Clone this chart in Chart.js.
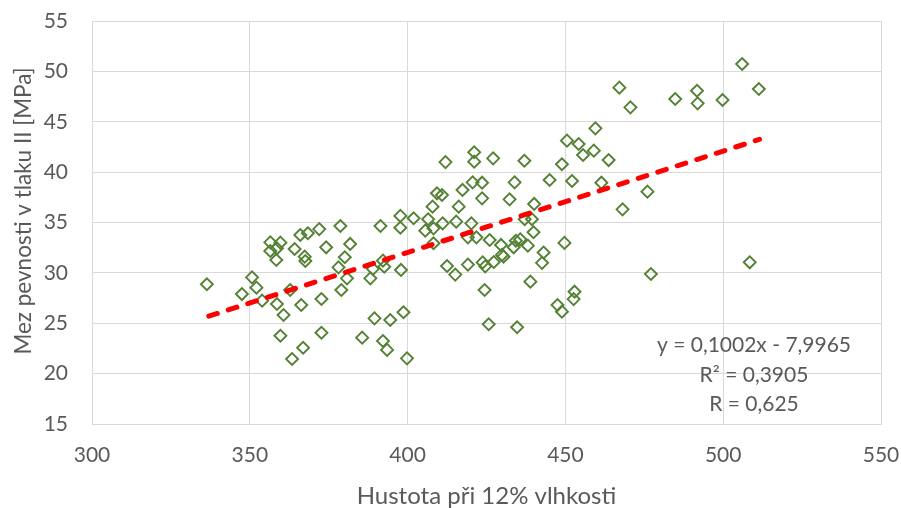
<!DOCTYPE html>
<html>
<head>
<meta charset="utf-8">
<script src="https://cdn.jsdelivr.net/npm/chart.js@4/dist/chart.umd.min.js"></script>
<style>
  html, body { margin: 0; padding: 0; background: #ffffff; }
  #wrap { width: 901px; height: 508px; position: relative; }
</style>
</head>
<body>
<div id="wrap"><canvas id="c" width="901" height="508"></canvas></div>
<script>
// Density at 12% moisture (x) and compressive strength parallel to grain (y)
const densityX = [
  336.4, 350.7, 347.5, 352.1, 353.9, 356.5, 359.7, 358.6, 356.5, 358.4,
  358.6, 360.7, 359.7, 363.4, 366.9, 362.8, 366.3, 364.2, 366.0, 368.4,
  372.0, 367.4, 367.6, 374.2, 378.7, 381.8, 380.1, 378.1, 380.8, 379.0,
  372.7, 372.7, 385.6, 389.5, 391.4, 388.2, 389.0, 392.2, 392.6, 394.5,
  398.7, 392.2, 393.5, 399.8, 397.9, 397.7, 397.7, 401.9,
  412.0, 421.1, 421.1, 427.1, 437.0, 450.5, 454.2, 455.6, 448.9, 452.1,
  445.0, 433.9, 432.3, 440.1, 420.6, 423.6, 423.6, 417.4, 409.3, 410.9,
  407.9, 416.2, 406.5, 405.6, 408.2, 411.1, 415.4, 420.2, 408.2, 419.1,
  421.8, 437.1, 439.4, 439.9, 426.0, 429.6, 434.3, 435.7, 438.1, 433.6,
  429.9, 430.4, 427.3, 424.6, 423.8, 419.1, 412.5, 415.1, 443.1, 442.6,
  449.7, 438.9, 424.4, 452.9, 452.6, 447.5, 448.9, 425.7, 434.7,
  506.0, 511.3, 491.7, 491.9, 484.8, 499.8, 467.1, 470.6, 459.5, 459.0,
  463.7, 461.4, 476.0, 468.1, 477.1, 508.4
];
const strengthY = [
  28.87, 29.56, 27.90, 28.53, 27.24, 33.03, 33.00, 32.44, 32.17, 31.28,
  26.91, 25.82, 23.76, 21.45, 22.57, 28.30, 26.81, 32.37, 33.76, 33.93,
  34.35, 31.61, 31.18, 32.54, 34.65, 32.87, 31.55, 30.55, 29.46, 28.30,
  27.41, 24.06, 23.57, 25.49, 34.65, 29.46, 30.40, 31.21, 30.61, 25.32,
  26.09, 23.24, 22.35, 21.52, 30.29, 35.65, 34.48, 35.42,
  41.00, 41.97, 41.04, 41.37, 41.13, 43.12, 42.79, 41.70, 40.78, 39.12,
  39.22, 38.99, 37.30, 36.84, 38.99, 38.95, 37.40, 38.23, 37.90, 37.73,
  36.57, 36.57, 35.32, 34.19, 34.42, 34.92, 35.08, 34.92, 32.94, 33.53,
  33.53, 35.32, 35.32, 34.03, 33.26, 32.77, 33.19, 33.33, 32.70, 32.54,
  31.78, 31.61, 31.08, 30.65, 31.04, 30.82, 30.68, 29.83, 32.02, 31.00,
  32.97, 29.13, 28.30, 28.13, 27.40, 26.81, 26.15, 24.90, 24.60,
  50.73, 48.25, 48.08, 46.83, 47.26, 47.16, 48.38, 46.43, 44.35, 42.13,
  41.20, 38.95, 38.06, 36.31, 29.89, 31.05
];
// Linear trend line end points (as drawn)
const trendX = [337.0, 511.5];
const trendY = [25.70, 43.25];
// Axis ticks
const xTicks = [300, 350, 400, 450, 500, 550];
const yTicks = [15, 20, 25, 30, 35, 40, 45, 50, 55];
// Texts
const xTitle = 'Hustota při 12% vlhkosti';
const yTitle = 'Mez pevnosti v tlaku II [MPa]';
const eqLines = ['y = 0,1002x - 7,9965', 'R² = 0,3905', 'R = 0,625'];

const FONT = 'Lato, "Open Sans", sans-serif';
const TXT = '#595959';
const GRID = '#D9D9D9';

const points = densityX.map((x, i) => ({ x: x, y: strengthY[i] }));
const trend = trendX.map((x, i) => ({ x: x, y: trendY[i] }));

const overlay = {
  id: 'overlay',
  afterDatasetsDraw(chart) {
    const ctx = chart.ctx;
    ctx.save();
    ctx.fillStyle = TXT;
    ctx.font = '21px ' + FONT;
    ctx.textAlign = 'center';
    ctx.textBaseline = 'alphabetic';
    const cx = 754;
    const base = [352, 382, 411];
    eqLines.forEach((t, i) => ctx.fillText(t, cx, base[i]));
    // y axis title
    ctx.translate(24, 211);
    ctx.rotate(-Math.PI / 2);
    ctx.font = '22.5px ' + FONT;
    ctx.textBaseline = 'middle';
    ctx.fillText(yTitle, 0, 0);
    ctx.restore();
  }
};

new Chart(document.getElementById('c'), {
  type: 'scatter',
  data: {
    datasets: [
      {
        type: 'line',
        label: 'trend',
        data: trend,
        showLine: true,
        borderColor: '#FF0000',
        borderWidth: 5,
        borderDash: [9, 11.5],
        borderCapStyle: 'round',
        pointRadius: 0,
        fill: false,
        tension: 0
      },
      {
        label: 'data',
        data: points,
        pointStyle: 'rectRot',
        pointRadius: 6,
        pointHoverRadius: 6,
        borderColor: '#548235',
        backgroundColor: 'rgba(0,0,0,0)',
        pointBorderWidth: 1.9,
        borderWidth: 1.9
      }
    ]
  },
  options: {
    responsive: false,
    animation: false,
    devicePixelRatio: 1,
    layout: { padding: { left: 0, right: 20, top: 21, bottom: 0 } },
    plugins: {
      legend: { display: false },
      tooltip: { enabled: false }
    },
    scales: {
      x: {
        type: 'linear',
        min: xTicks[0],
        max: xTicks[xTicks.length - 1],
        afterBuildTicks(scale) { scale.ticks = xTicks.map(v => ({ value: v })); },
        afterFit(scale) {
          scale.height = 84;
          scale.paddingLeft = 0;
          scale.paddingRight = 0;
        },
        grid: { color: GRID, lineWidth: 1, drawTicks: false },
        border: { color: GRID, width: 1 },
        ticks: { color: TXT, font: { family: FONT, size: 21 }, padding: 19, maxRotation: 0 },
        title: {
          display: true,
          text: xTitle,
          color: TXT,
          font: { family: FONT, size: 24, lineHeight: 1 },
          padding: { top: 0, bottom: 0 }
        }
      },
      y: {
        type: 'linear',
        min: yTicks[0],
        max: yTicks[yTicks.length - 1],
        afterBuildTicks(scale) { scale.ticks = yTicks.map(v => ({ value: v })); },
        afterFit(scale) {
          scale.width = 92;
          scale.paddingTop = 0;
          scale.paddingBottom = 0;
        },
        grid: { color: GRID, lineWidth: 1, drawTicks: false },
        border: { color: GRID, width: 1 },
        ticks: { color: TXT, font: { family: FONT, size: 21 }, padding: 24 }
      }
    }
  },
  plugins: [overlay]
});
</script>
</body>
</html>
